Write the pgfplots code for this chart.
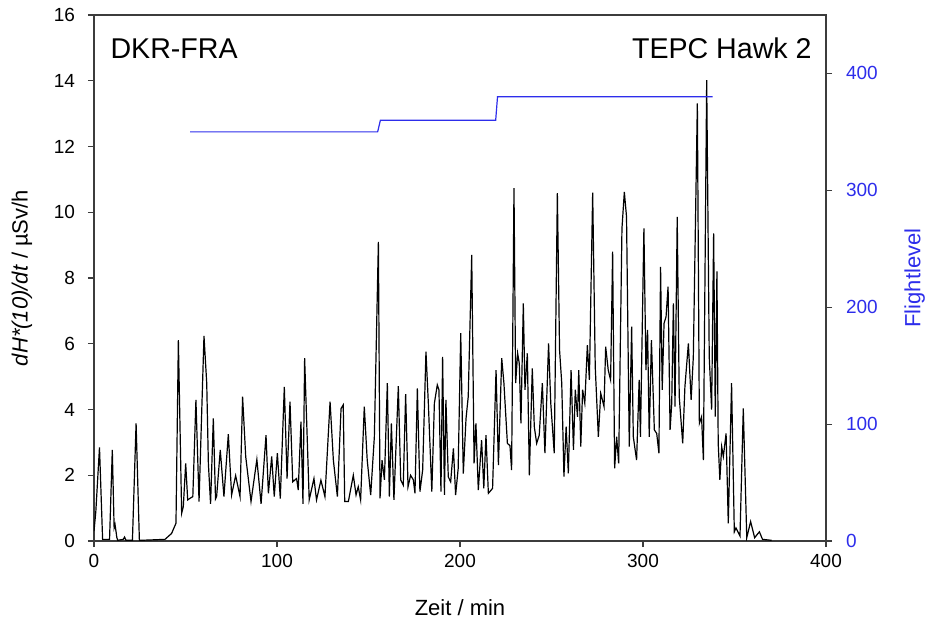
\documentclass[border=0pt]{standalone}
\usepackage{pgfplots}
\pgfplotsset{compat=1.18}
\usepackage{fontspec}
\setmainfont{Liberation Sans}
\definecolor{flblue}{RGB}{45,45,235}
\definecolor{axgray}{RGB}{60,60,60}
\begin{document}
\begin{tikzpicture}
\pgfplotsset{
  every axis/.append style={
    scale only axis, width=366pt, height=263pt,
    xmin=0, xmax=400,
    tick align=outside, major tick length=3pt,
    /pgf/number format/assume math mode=true,
    tick label style={font=\fontsize{9.5}{11}\selectfont},
    label style={font=\fontsize{11}{13}\selectfont},
    axis line style={axgray, line width=0.7pt},
    every tick/.style={axgray, line width=0.6pt},
  }
}
\begin{axis}[
  ymin=0, ymax=16,
  xtick={0,100,200,300,400}, ytick={0,2,...,16},
  xtick pos=bottom, ytick pos=left,
  minor tick num=0,
  yticklabel style={xshift=-3pt},
  xlabel={Zeit / min},
  ylabel={\itshape dH*(10)/dt\/\upshape\ / µSv/h},
  xlabel style={yshift=-9pt},
  ylabel style={yshift=4pt},
]
\addplot[black, line width=0.6pt] coordinates {
(0,0.3) (1,0.9) (3,2.85) (4.7,0.05) (8.5,0.05) (10,2.77) (11,0.4) (11.5,0.5) (12.5,0.1) (13,0.02)
(16,0.05) (16.7,0.12) (17.5,0.02) (21,0.02) (23,3.58) (24.8,0.02) (30,0.03) (38.8,0.05) (42.4,0.23)
(44.8,0.54) (46.1,6.11) (47.9,0.84) (48.8,1.04) (50.1,2.36) (51.2,1.25) (52.5,1.3) (54,1.35)
(55.7,4.29) (57.4,1.2) (60.1,6.24) (61.6,4.8) (62.5,2.36) (63.7,1.13) (65.2,3.73) (66.4,1.28)
(67.0,1.35) (69.0,2.77) (71,1.35) (73.4,3.25) (75.2,1.4) (77.4,1.99) (79.8,1.35) (81.2,4.39)
(82.9,2.57) (85.8,1.2) (89,2.48) (91.3,1.13) (94,3.22) (95.3,1.45) (97.1,2.57) (98.5,1.35)
(100.2,2.67) (101.8,1.29) (104,4.69) (105.5,1.9) (107.1,4.24) (108.6,1.8) (110.7,1.9) (111.6,1.55)
(113.1,3.63) (114.2,1.13) (115.1,5.56) (117.6,1.25) (120.2,1.9) (121.6,1.25) (124,1.85) (126.2,1.35)
(129,4.24) (130.8,2.46) (133,1.35) (135,4.03) (136.2,4.14) (137,1.2) (139,1.2) (141.7,2.0)
(143.2,1.4) (144.4,1.65) (145.7,1.25) (147.7,4.09) (149.3,2.46) (151.2,1.4) (153.2,3.17)
(155.4,9.1) (156.3,1.3) (157.4,2.46) (158.7,1.86) (160.3,4.8) (161.4,1.35) (162.5,3.58)
(163.9,1.25) (166.3,4.71) (167.6,1.86) (169,1.7) (170.3,4.47) (171.6,1.65) (173,2.0) (174.5,1.86)
(175.4,1.45) (176.7,4.64) (178.1,1.5) (179.6,2.16) (181.4,5.76) (182.7,4.19) (184.6,1.5) (186,4.19)
(187.6,4.75) (188.5,4.6) (189.6,1.5) (190.5,5.6) (191.5,1.4) (192.3,4.29) (193.6,1.95) (194.9,1.8)
(196.4,2.82) (197.6,1.4) (199,2.2) (200.4,6.32) (201.8,2.05) (203.3,3.73) (204.5,4.39) (206.4,8.7)
(207.7,2.36) (208.7,3.58) (210,1.55) (211.8,3.07) (213,1.6) (214.2,3.22) (215.5,1.45) (217.8,1.6)
(219.7,5.2) (221,2.31) (222.8,5.56) (224,4.8) (225.9,2.97) (227.3,2.9) (228.2,2.16) (229.5,10.73)
(230.4,4.8) (231.5,5.71) (232.4,5.4) (233.3,3.58) (234.6,7.23) (235.5,4.6) (236.8,5.71) (237.9,2.0)
(239.5,5.25) (240.6,3.48) (241.9,2.97) (243.3,3.22) (245,4.8) (246.4,2.67) (248.4,6.01) (249.6,4.19)
(251.5,2.67) (253.2,10.58) (254.4,5.81) (255.6,4.8) (256.8,1.96) (258,3.48) (259.2,2.06) (260.7,5.2)
(262,2.77) (263,4.6) (264.2,3.78) (264.9,5.2) (266,2.87) (267,4.6) (268.2,4.19) (269.6,5.96)
(270.7,4.9) (272.5,10.6) (273.9,5.3) (275.6,3.17) (276.9,4.49) (278.7,4.09) (279.6,5.91) (281,5.2)
(282.3,4.9) (283.4,8.8) (284.5,2.21) (285.6,3.17) (286.7,2.36) (288.5,9.5) (289.8,10.62) (291,9.86)
(292.5,2.87) (293.8,6.52) (294.7,3.17) (296.5,2.46) (297.9,4.9) (298.6,3.17) (300.5,9.51) (301.6,5.2)
(302.5,6.42) (303.4,3.17) (304.6,6.11) (306.2,3.38) (307.5,3.27) (308.7,2.67) (309.6,8.34) (310.5,4.6)
(311.5,6.62) (312.6,6.82) (313.7,7.74) (314.8,3.38) (315.7,4.19) (316.6,7.23) (317.5,4.09) (318.7,9.86)
(319.8,4.39) (321.7,2.97) (322.9,4.69) (324.8,6.01) (326.3,4.29) (327.5,5.6) (329.7,13.31) (330.8,3.58)
(332,3.78) (333,2.46) (334.8,14.02) (336.2,5.6) (337.5,4.0) (338.6,9.36) (339.5,3.78) (340.4,8.2)
(341.1,2.97) (342,1.86) (343,2.87) (343.9,2.57) (345.4,3.27) (346.6,0.54) (348.4,4.8) (349.9,0.28)
(350.8,0.4) (353,0.15) (354.8,4.03) (356.7,0.1) (358.8,0.59) (361,0.1) (363.6,0.28) (365.3,0.05)
(370.3,0.02)
};
\node[anchor=base west, font=\fontsize{14.3}{16}\selectfont] at (rel axis cs:0.013,0.918) {DKR-FRA};
\node[anchor=base east, font=\fontsize{14.3}{16}\selectfont] at (rel axis cs:0.99,0.918) {TEPC Hawk 2};
\end{axis}
\begin{axis}[
  ymin=0, ymax=450,
  axis x line=none, axis y line*=right,
  ytick={0,100,200,300,400},
  ytick pos=right,
  yticklabel style={text=flblue, xshift=3.5pt},
  ylabel={Flightlevel},
  ylabel style={text=flblue, yshift=-6.5pt},
]
\addplot[flblue, line width=0.6pt] coordinates {
(52.5,350) (155,350) (156.5,360) (219.5,360) (220.5,380) (338,380)
};
\end{axis}
\path (current axis.south west) ++(-47pt,-45pt) coordinate (bbA);
\path (current axis.north east) ++(50pt,7.5pt) coordinate (bbB);
\pgfresetboundingbox
\useasboundingbox (bbA) rectangle (bbB);
\end{tikzpicture}
\end{document}
